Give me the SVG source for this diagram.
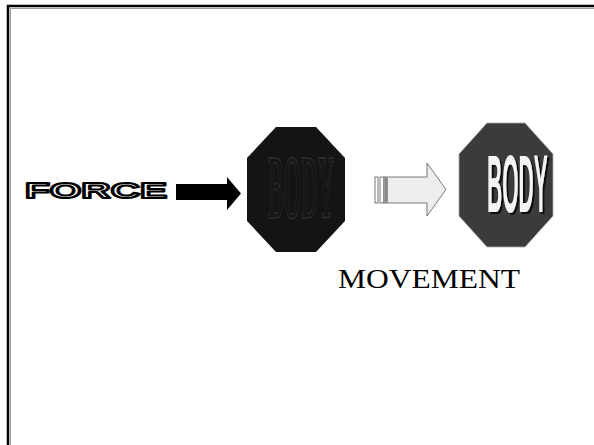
<svg xmlns="http://www.w3.org/2000/svg" width="594" height="445" viewBox="0 0 594 445">
<defs>
<filter id="shadow" x="-20%" y="-20%" width="140%" height="140%">
<feOffset in="SourceAlpha" dx="2" dy="2" result="off"/>
<feFlood flood-color="#0c0c0c"/>
<feComposite in2="off" operator="in" result="sh"/>
<feMerge><feMergeNode in="sh"/><feMergeNode in="SourceGraphic"/></feMerge>
</filter>
</defs>
<style>
.frame{fill:none;stroke:#000;stroke-width:2.5}
.frameshade{fill:none;stroke:#9a9a9a;stroke-width:1}
.force{font-family:"Liberation Sans",Arial,sans-serif;font-weight:bold;font-size:22px;fill:#fff;stroke:#000;stroke-width:2;stroke-linejoin:round}
.body1{font-family:"Liberation Serif","Times New Roman",serif;font-weight:bold;font-size:23px;fill:#161616;stroke:#303030;stroke-width:1}
.body2{font-family:"Liberation Sans",Arial,sans-serif;font-weight:bold;font-size:21px;fill:#f4f4f4}
.move{font-family:"Liberation Serif","Times New Roman",serif;font-size:28px;fill:#000}
</style>
<rect x="0" y="0" width="594" height="445" fill="#fff"/>
<g id="frame">
<path class="frameshade" d="M10.5,445 V8.5 H594"/>
<path class="frame" d="M8,445 V6 H594"/>
</g>
<g id="force-label">
<text class="force" x="25" y="198" textLength="142" lengthAdjust="spacingAndGlyphs">FORCE</text>
</g>
<g id="body1">
<polygon points="276,127 316,127 345,158 345,221 316,252 276,252 247,221 247,158" fill="#141414"/>
<text class="body1" transform="translate(268,218) scale(1,3.95)" vector-effect="non-scaling-stroke" x="0" y="0">BODY</text>
</g>
<g id="body2">
<polygon points="487,123 525,123 553,154 553,216 525,247 487,247 459,216 459,154" fill="#3b3b3b" stroke="#a8a8a8" stroke-width="0.8"/>
<g filter="url(#shadow)">
<text class="body2" transform="translate(487,212) scale(1,3.9)" x="0" y="0">BODY</text>
</g>
</g>
<g id="movement-label">
<text class="move" x="338" y="288" textLength="182" lengthAdjust="spacingAndGlyphs">MOVEMENT</text>
</g>
<g id="connectors">
<polygon points="176,184 227,184 227,177 241,193.5 227,210 227,200 176,200" fill="#000"/>
<g id="move-arrow">
<rect x="375" y="177" width="3" height="26" fill="#fff" stroke="#555" stroke-width="0.8"/>
<rect x="380" y="177" width="4" height="26" fill="#fff" stroke="#555" stroke-width="0.8"/>
<polygon points="384,177 427,177 427,163 446,189.5 427,216 427,203 384,203" fill="#eeeeee" stroke="#555" stroke-width="0.8"/>
<rect x="384.4" y="177.4" width="3.5" height="25.2" fill="#8a8a8a"/>
</g>
</g>
</svg>
